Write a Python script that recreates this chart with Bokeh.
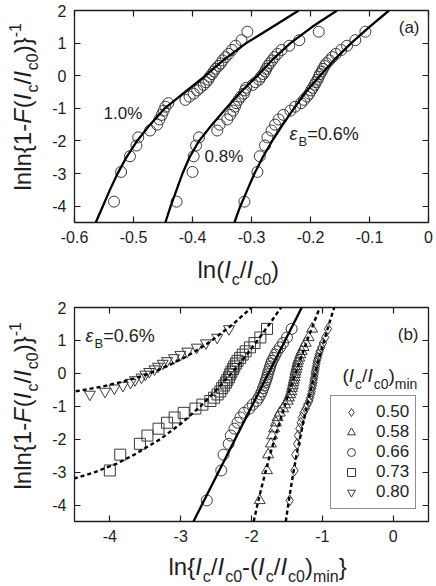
import math
import numpy as np
from bokeh.plotting import figure
from bokeh.models import Range1d, FixedTicker, LinearAxis, Label, Legend, LegendItem, GridBox
from bokeh.embed import file_html
from bokeh.resources import INLINE

FONT = "Liberation Sans"
INK = "#1e1e1e"
MARK = "#3a3a3a"
NAN = float("nan")

# ---------------- data ----------------
# Weibull-plot ordinate of each ranked specimen (33 specimens per strain)
Y_RANK = [-3.86, -2.95, -2.47, -2.14, -1.89, -1.68, -1.50, -1.34, -1.20, -1.07, -0.95,
          -0.84, -0.74, -0.64, -0.55, -0.45, -0.37, -0.28, -0.20, -0.12, -0.03, 0.05,
          0.13, 0.21, 0.30, 0.38, 0.47, 0.57, 0.67, 0.79, 0.92, 1.09, 1.35]

# panel (a): ln(Ic/Ic0) for strains 1.0 %, 0.8 %, 0.6 %
X_10 = [-0.533, -0.521, -0.506, -0.495, -0.492, -0.472, -0.460, -0.456, -0.452, -0.449, -0.446,
        -0.441, -0.412, -0.405, -0.398, -0.392, -0.387, -0.381, -0.377, -0.373, -0.371, -0.367,
        -0.364, -0.361, -0.356, -0.352, -0.349, -0.344, -0.339, -0.333, -0.327, -0.317, -0.307]
X_08 = [-0.427, -0.400, -0.398, -0.394, -0.389, -0.358, -0.354, -0.341, -0.336, -0.331, -0.328,
        -0.326, -0.322, -0.318, -0.313, -0.311, -0.309, -0.298, -0.293, -0.287, -0.284, -0.280,
        -0.277, -0.275, -0.272, -0.269, -0.265, -0.261, -0.256, -0.249, -0.236, -0.219, -0.186]
X_06 = [-0.312, -0.290, -0.286, -0.277, -0.273, -0.266, -0.260, -0.254, -0.246, -0.234, -0.226,
        -0.216, -0.211, -0.206, -0.202, -0.199, -0.196, -0.193, -0.191, -0.188, -0.186, -0.184,
        -0.181, -0.179, -0.176, -0.173, -0.168, -0.163, -0.157, -0.148, -0.138, -0.124, -0.107]

FIT_Y = [-4.5, -4.0, -3.5, -3.0, -2.5, -2.0, -1.5, -1.0, -0.5, 0.0, 0.5, 1.0, 1.5, 2.0]
FIT_10_X = [-0.564, -0.552, -0.540, -0.527, -0.512, -0.494, -0.472, -0.447, -0.413, -0.378,
            -0.346, -0.309, -0.264, -0.220]
FIT_08_X = [-0.446, -0.437, -0.427, -0.417, -0.405, -0.389, -0.367, -0.343, -0.318, -0.290,
            -0.264, -0.234, -0.197, -0.155]
FIT_06_X = [-0.329, -0.319, -0.307, -0.295, -0.281, -0.265, -0.247, -0.228, -0.208, -0.184,
            -0.159, -0.131, -0.100, -0.067]

# panel (b): ln{Ic/Ic0 - (Ic/Ic0)min} for eps_B = 0.6 %
XB_050 = [-1.461, -1.393, -1.382, -1.355, -1.343, -1.323, -1.305, -1.289, -1.266, -1.233, -1.212,
          -1.185, -1.172, -1.159, -1.149, -1.141, -1.133, -1.126, -1.121, -1.113, -1.108, -1.103,
          -1.095, -1.090, -1.083, -1.076, -1.063, -1.051, -1.037, -1.015, -0.991, -0.959, -0.920]
XB_058 = [-1.884, -1.782, -1.765, -1.726, -1.709, -1.680, -1.655, -1.631, -1.600, -1.554, -1.525,
          -1.489, -1.471, -1.453, -1.439, -1.429, -1.419, -1.409, -1.402, -1.392, -1.386, -1.379,
          -1.369, -1.362, -1.352, -1.343, -1.327, -1.311, -1.292, -1.264, -1.234, -1.193, -1.144]
XB_066 = [-2.631, -2.427, -2.395, -2.323, -2.292, -2.241, -2.197, -2.157, -2.105, -2.030, -1.983,
          -1.926, -1.898, -1.872, -1.851, -1.836, -1.820, -1.805, -1.795, -1.780, -1.771, -1.761,
          -1.746, -1.737, -1.723, -1.709, -1.686, -1.663, -1.636, -1.598, -1.555, -1.499, -1.433]
XB_073 = [-6.215, -4.001, -3.854, -3.576, -3.470, -3.313, -3.192, -3.086, -2.958, -2.792, -2.693,
          -2.581, -2.528, -2.479, -2.441, -2.414, -2.386, -2.359, -2.342, -2.317, -2.301, -2.284,
          -2.260, -2.243, -2.220, -2.197, -2.160, -2.124, -2.082, -2.022, -1.958, -1.875, -1.781]
XB_080 = [NAN, NAN, NAN, NAN, NAN, NAN, NAN, NAN, NAN, NAN, NAN,
          -5.167, -4.625, -4.283, -4.069, -3.937, -3.817, -3.709, -3.646, -3.554, -3.500, -3.445,
          -3.370, -3.321, -3.254, -3.192, -3.094, -3.004, -2.906, -2.774, -2.644, -2.485, -2.318]

FB_050_X = [-1.516, -1.482, -1.446, -1.407, -1.366, -1.319, -1.270, -1.218, -1.163, -1.103,
            -1.040, -0.974, -0.905, -0.832]
FB_058_X = [-1.969, -1.917, -1.862, -1.803, -1.742, -1.675, -1.605, -1.533, -1.458, -1.379,
            -1.297, -1.213, -1.125, -1.035]
FB_066_X = [-2.82, -1.29]
FB_066_Y = [-4.5, 2.0]
FB_073_Y = [-3.25, -3.15, -3.0, -2.75, -2.5, -2.0, -1.5, -1.0, -0.5, 0.0, 0.5, 1.0, 1.5, 2.0]
FB_073_X = [-4.605, -4.431, -4.213, -3.912, -3.681, -3.289, -2.980, -2.721, -2.494, -2.284,
            -2.092, -1.915, -1.745, -1.583]
FB_080_Y = [-0.6, -0.55, -0.5, -0.4, -0.25, -0.1, 0.0, 0.1, 0.25, 0.5, 0.75, 1.0, 1.5, 2.0]
FB_080_X = [-4.678, -4.501, -4.36, -4.104, -3.812, -3.576, -3.445, -3.321, -3.163, -2.930,
            -2.733, -2.559, -2.258, -2.000]

LEGEND_LABELS = ["0.50", "0.58", "0.66", "0.73", "0.80"]
MARKERS = ["diamond", "triangle", "circle", "square", "inverted_triangle"]

XA_TICKS = [-0.6, -0.5, -0.4, -0.3, -0.2, -0.1, 0.0]
XA_LABELS = ["-0.6", "-0.5", "-0.4", "-0.3", "-0.2", "-0.1", "0"]
XB_TICKS = [-4, -3, -2, -1, 0]
XB_LABELS = ["-4", "-3", "-2", "-1", "0"]
Y_TICKS = [-4, -3, -2, -1, 0, 1, 2]
Y_LABELS = ["-4", "-3", "-2", "-1", "0", "1", "2"]

# ---------------- helpers ----------------
CW = {'l': 0.222, 'n': 0.556, '(': 0.333, ')': 0.333, '{': 0.334, '}': 0.334, '1': 0.556,
      '0': 0.556, '-': 0.333, 'F': 0.611, 'I': 0.278, 'c': 0.5, '/': 0.278, 'm': 0.833,
      'i': 0.222, '.': 0.278, '%': 0.889, '=': 0.584, 'B': 0.667, 'ε': 0.45, '6': 0.556,
      '8': 0.556, '5': 0.556}
MID = 0.3465  # distance (em) from the middle of the text box to the baseline


def text_width(t, size):
    return sum(CW.get(ch, 0.556) for ch in t) * size


def put_text(p, fb, x, y, text, size, style="normal", angle=0.0, align="left"):
    # (x, y): baseline start point in the figure's pixel frame (y from top)
    if angle == 0.0:
        y = y - MID * size
    else:
        x = x - MID * size
    p.add_layout(Label(x=x - fb[0], y=fb[1] - y, x_units="screen", y_units="screen",
                       text=text, text_font=FONT, text_font_size=f"{size}px",
                       text_font_style=style, text_color=INK, angle=angle,
                       text_align=align, text_baseline="middle"))


def rich(p, fb, x, y, pieces, vertical=False):
    adv = 0.0
    for text, size, style, shift in pieces:
        if vertical:
            put_text(p, fb, x + shift, y - adv, text, size, style, angle=math.pi / 2)
        else:
            put_text(p, fb, x + adv, y + shift, text, size, style)
        adv += text_width(text, size) + (1.0 if style == "italic" else 0.0)


def style_axis(ax, ticks, labels, show):
    ax.ticker = FixedTicker(ticks=ticks)
    if show:
        ax.major_label_overrides = {t: s for t, s in zip(ticks, labels)}
        ax.major_label_standoff = 8
    else:
        ax.major_label_overrides = {t: "" for t in ticks}
        ax.major_label_standoff = 0
    ax.major_tick_in = 6
    ax.major_tick_out = 0
    ax.minor_tick_line_color = None
    ax.axis_line_color = None
    ax.major_tick_line_color = INK
    ax.major_tick_line_width = 1.2
    ax.major_label_text_font = FONT
    ax.major_label_text_font_size = "16px"
    ax.major_label_text_color = INK


def make_fig(h, xr, yr, top, bottom, xticks, xlabels):
    p = figure(width=436, height=h, x_range=Range1d(*xr), y_range=Range1d(*yr),
               output_backend="svg", toolbar_location=None,
               min_border_left=74, min_border_right=8, min_border_top=top,
               min_border_bottom=bottom, background_fill_color="white",
               border_fill_color="white", outline_line_color=INK, outline_line_width=1.3)
    p.xgrid.visible = False
    p.ygrid.visible = False
    p.add_layout(LinearAxis(), "above")
    p.add_layout(LinearAxis(), "right")
    style_axis(p.below[0], xticks, xlabels, True)
    style_axis(p.above[0], xticks, xlabels, False)
    style_axis(p.left[0], Y_TICKS, Y_LABELS, True)
    style_axis(p.right[0], Y_TICKS, Y_LABELS, False)
    return p


def y_title(p, fb, y0):
    rich(p, fb, 30, y0, [("lnln{1-", 24, "normal", 0), ("F", 24, "italic", 0),
                         ("(", 24, "normal", 0), ("I", 24, "italic", 0), ("c", 16, "normal", 8),
                         ("/", 24, "normal", 0), ("I", 24, "italic", 0), ("c0", 16, "normal", 8),
                         (")}", 24, "normal", 0), ("-1", 16, "normal", -10)], vertical=True)


# ---------------- panel (a) ----------------
pa = make_fig(290, (-0.6, 0.0), (-4.5, 2.0), 10, 68, XA_TICKS, XA_LABELS)
FA = (74, 222)
for xs in (X_10, X_08, X_06):
    pa.scatter(x=np.asarray(xs), y=np.asarray(Y_RANK), marker="circle", size=11,
               fill_color=None, line_color=MARK, line_width=1.0)
for fx in (FIT_10_X, FIT_08_X, FIT_06_X):
    pa.line(x=np.asarray(fx), y=np.asarray(FIT_Y), line_color="black", line_width=2.3)

put_text(pa, FA, 419, 33, "(a)", 17, align="right")
put_text(pa, FA, 103, 118.5, "1.0%", 17)
put_text(pa, FA, 204, 162, "0.8%", 17)
rich(pa, FA, 289, 140, [("ε", 18, "italic", 0), ("B", 13, "normal", 6), ("=0.6%", 18, "normal", 0)])

# ---------------- panel (b) ----------------
pb = make_fig(296, (-4.5, 0.5), (-4.5, 2.0), 17, 65, XB_TICKS, XB_LABELS)
FBF = (74, 231)
series = [XB_050, XB_058, XB_066, XB_073, XB_080]
renderers = []
for xs, mk in zip(series, MARKERS):
    r = pb.scatter(x=np.asarray(xs), y=np.asarray(Y_RANK), marker=mk, size=11,
                   fill_color=None, line_color=MARK, line_width=1.0)
    renderers.append(r)

pb.line(x=np.asarray(FB_050_X), y=np.asarray(FIT_Y), line_color="black", line_width=2.4, line_dash="4 3")
pb.line(x=np.asarray(FB_058_X), y=np.asarray(FIT_Y), line_color="black", line_width=2.4, line_dash="4 3")
pb.line(x=np.asarray(FB_066_X), y=np.asarray(FB_066_Y), line_color="black", line_width=2.3)
pb.line(x=np.asarray(FB_073_X), y=np.asarray(FB_073_Y), line_color="black", line_width=2.4, line_dash="4 3")
pb.line(x=np.asarray(FB_080_X), y=np.asarray(FB_080_Y), line_color="black", line_width=2.4, line_dash="4 3")

legend = Legend(items=[LegendItem(label=lab, renderers=[r]) for lab, r in zip(LEGEND_LABELS, renderers)],
                location=(256, 12), margin=0, padding=6, spacing=0, glyph_width=28, glyph_height=20,
                label_height=20, label_standoff=11, label_text_font=FONT,
                label_text_font_size="17px", label_text_color=INK,
                border_line_color=INK, border_line_width=1.2, background_fill_color="white",
                background_fill_alpha=1.0)
pb.add_layout(legend)

put_text(pb, FBF, 418, 49.5, "(b)", 17, align="right")
rich(pb, FBF, 85, 51.5, [("ε", 18, "italic", 0), ("B", 13, "normal", 6), ("=0.6%", 18, "normal", 0)])
rich(pb, FBF, 342, 92, [("(", 19, "normal", 0), ("I", 19, "italic", 0), ("c", 14, "normal", 6),
                        ("/", 19, "normal", 0), ("I", 19, "italic", 0), ("c0", 14, "normal", 6),
                        (")", 19, "normal", 0), ("min", 14, "normal", 6)])

# ---------------- overlay for the axis titles (outside the plot frames) ----------------
ov = figure(width=436, height=586, output_backend="svg", toolbar_location=None, title=None,
            x_axis_location=None, y_axis_location=None, min_border=0,
            min_border_left=0, min_border_right=0, min_border_top=0, min_border_bottom=0,
            background_fill_color=None, border_fill_color=None, outline_line_color=None,
            frame_align=False)
ov.xgrid.visible = False
ov.ygrid.visible = False
FO = (0, 586)
rich(ov, FO, 197, 277, [("ln(", 24, "normal", 0), ("I", 24, "italic", 0), ("c", 16, "normal", 8),
                        ("/", 24, "normal", 0), ("I", 24, "italic", 0), ("c0", 16, "normal", 8),
                        (")", 24, "normal", 0)])
y_title(ov, FO, 190)
rich(ov, FO, 168, 574, [("ln{", 24, "normal", 0), ("I", 24, "italic", 0), ("c", 16, "normal", 8),
                        ("/", 24, "normal", 0), ("I", 24, "italic", 0), ("c0", 16, "normal", 8),
                        ("-(", 24, "normal", 0), ("I", 24, "italic", 0), ("c", 16, "normal", 8),
                        ("/", 24, "normal", 0), ("I", 24, "italic", 0), ("c0", 16, "normal", 8),
                        (")", 24, "normal", 0), ("min", 16, "normal", 8), ("}", 24, "normal", 0)])
y_title(ov, FO, 489)

layout = GridBox(children=[(pa, 0, 0), (pb, 1, 0), (ov, 0, 0, 2, 1)], spacing=0)
open("out.html", "w").write(file_html(layout, INLINE))
